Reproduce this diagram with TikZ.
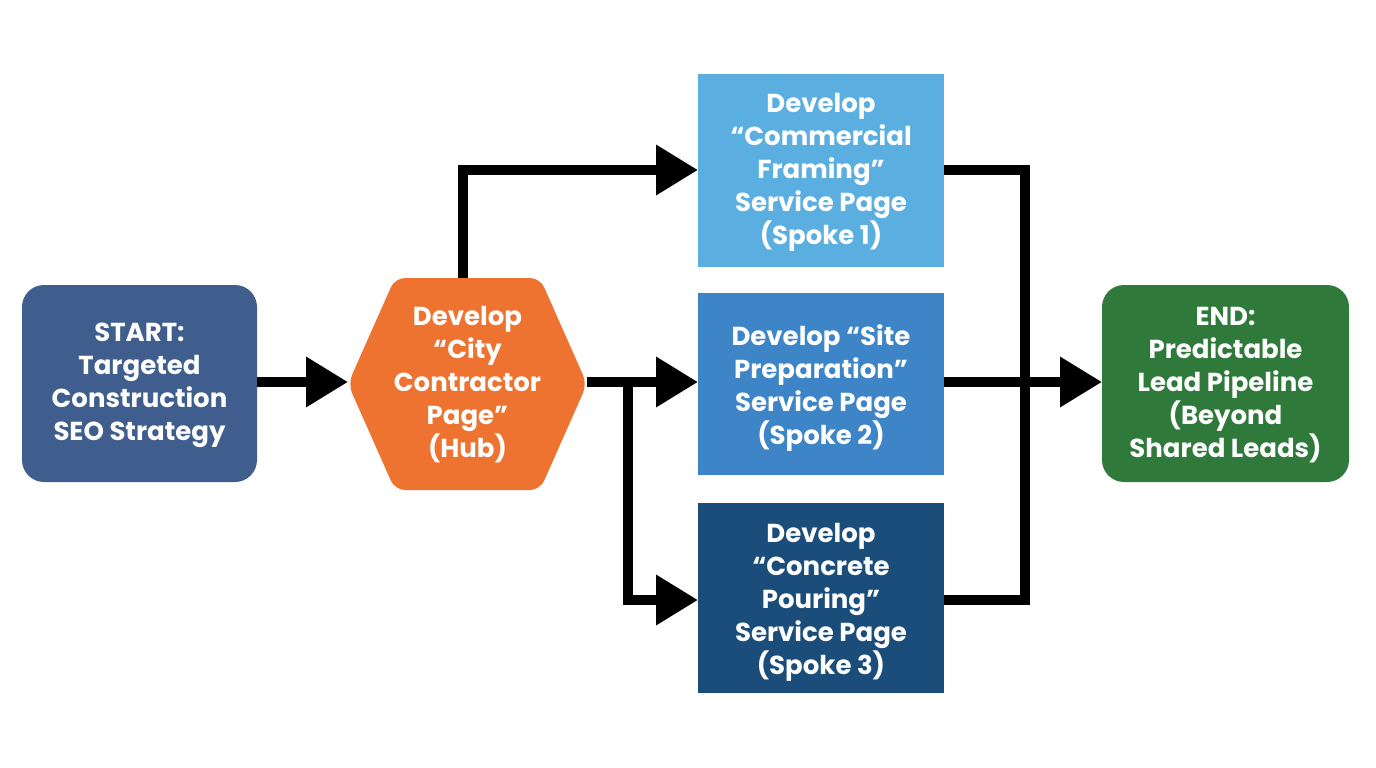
\documentclass[tikz,border=0pt]{standalone}
\usepackage{fontspec}
\setmainfont{Poppins}
\usetikzlibrary{arrows.meta}
\definecolor{cstart}{HTML}{3F5E8E}
\definecolor{chub}{HTML}{EE7330}
\definecolor{cs1}{HTML}{5AAEE0}
\definecolor{cs2}{HTML}{3D85C6}
\definecolor{cs3}{HTML}{1B4D7A}
\definecolor{cend}{HTML}{2F7A3B}
\begin{document}
\begin{tikzpicture}[x=1pt,y=-1pt,
 txt/.style={text=white,font=\fontsize{26}{33}\selectfont\bfseries,align=center},
 box/.style={txt,inner sep=0pt},
 ar/.style={line width=10pt,-{Triangle[length=42pt,width=48pt]}},
 ln/.style={line width=10pt}]
\useasboundingbox (0,0) rectangle (1376,768);
\fill[cstart,rounded corners=22pt] (22,285) rectangle (257,482);
\node[box] (start) at (139.5,385) {START:\\Targeted\\Construction\\SEO Strategy};
\fill[chub,rounded corners=10pt] (348,384)--(395,278)--(540,278)--(587,384)--(540,490)--(395,490)--cycle;
\node[box] (hub) at (467.5,385) {Develop\\“City\\Contractor\\Page”\\(Hub)};
\fill[cs1] (698,74) rectangle (944,267);
\node[box] (s1) at (821,172) {Develop\\“Commercial\\Framing”\\Service Page\\(Spoke 1)};
\fill[cs2] (698,293) rectangle (944,475);
\node[box] (s2) at (821,388) {Develop “Site\\Preparation”\\Service Page\\(Spoke 2)};
\fill[cs3] (698,503) rectangle (944,693);
\node[box] (s3) at (821,602) {Develop\\“Concrete\\Pouring”\\Service Page\\(Spoke 3)};
\fill[cend,rounded corners=22pt] (1102,285) rectangle (1349,482);
\node[box] (end) at (1225.5,385) {END:\\Predictable\\Lead Pipeline\\(Beyond\\Shared Leads)};
\coordinate (sR) at (257,382);
\coordinate (hL) at (348,382);
\coordinate (hT) at (463,278);
\coordinate (hR) at (587,382);
\coordinate (s1L) at (698,170);
\coordinate (s2L) at (698,382);
\coordinate (s3L) at (698,600);
\coordinate (s1R) at (944,170);
\coordinate (s2R) at (944,382);
\coordinate (s3R) at (944,600);
\coordinate (eL) at (1102,382);
\draw[ar] (sR)--(hL);
\draw[ar] (hT)--(463,170)--(s1L);
\draw[ar] (hR)--(s2L);
\draw[ar] (628,382)--(628,600)--(s3L);
\draw[ln] (s1R)--(1025,170)--(1025,600)--(s3R);
\draw[ar] (s2R)--(eL);
\end{tikzpicture}
\end{document}
